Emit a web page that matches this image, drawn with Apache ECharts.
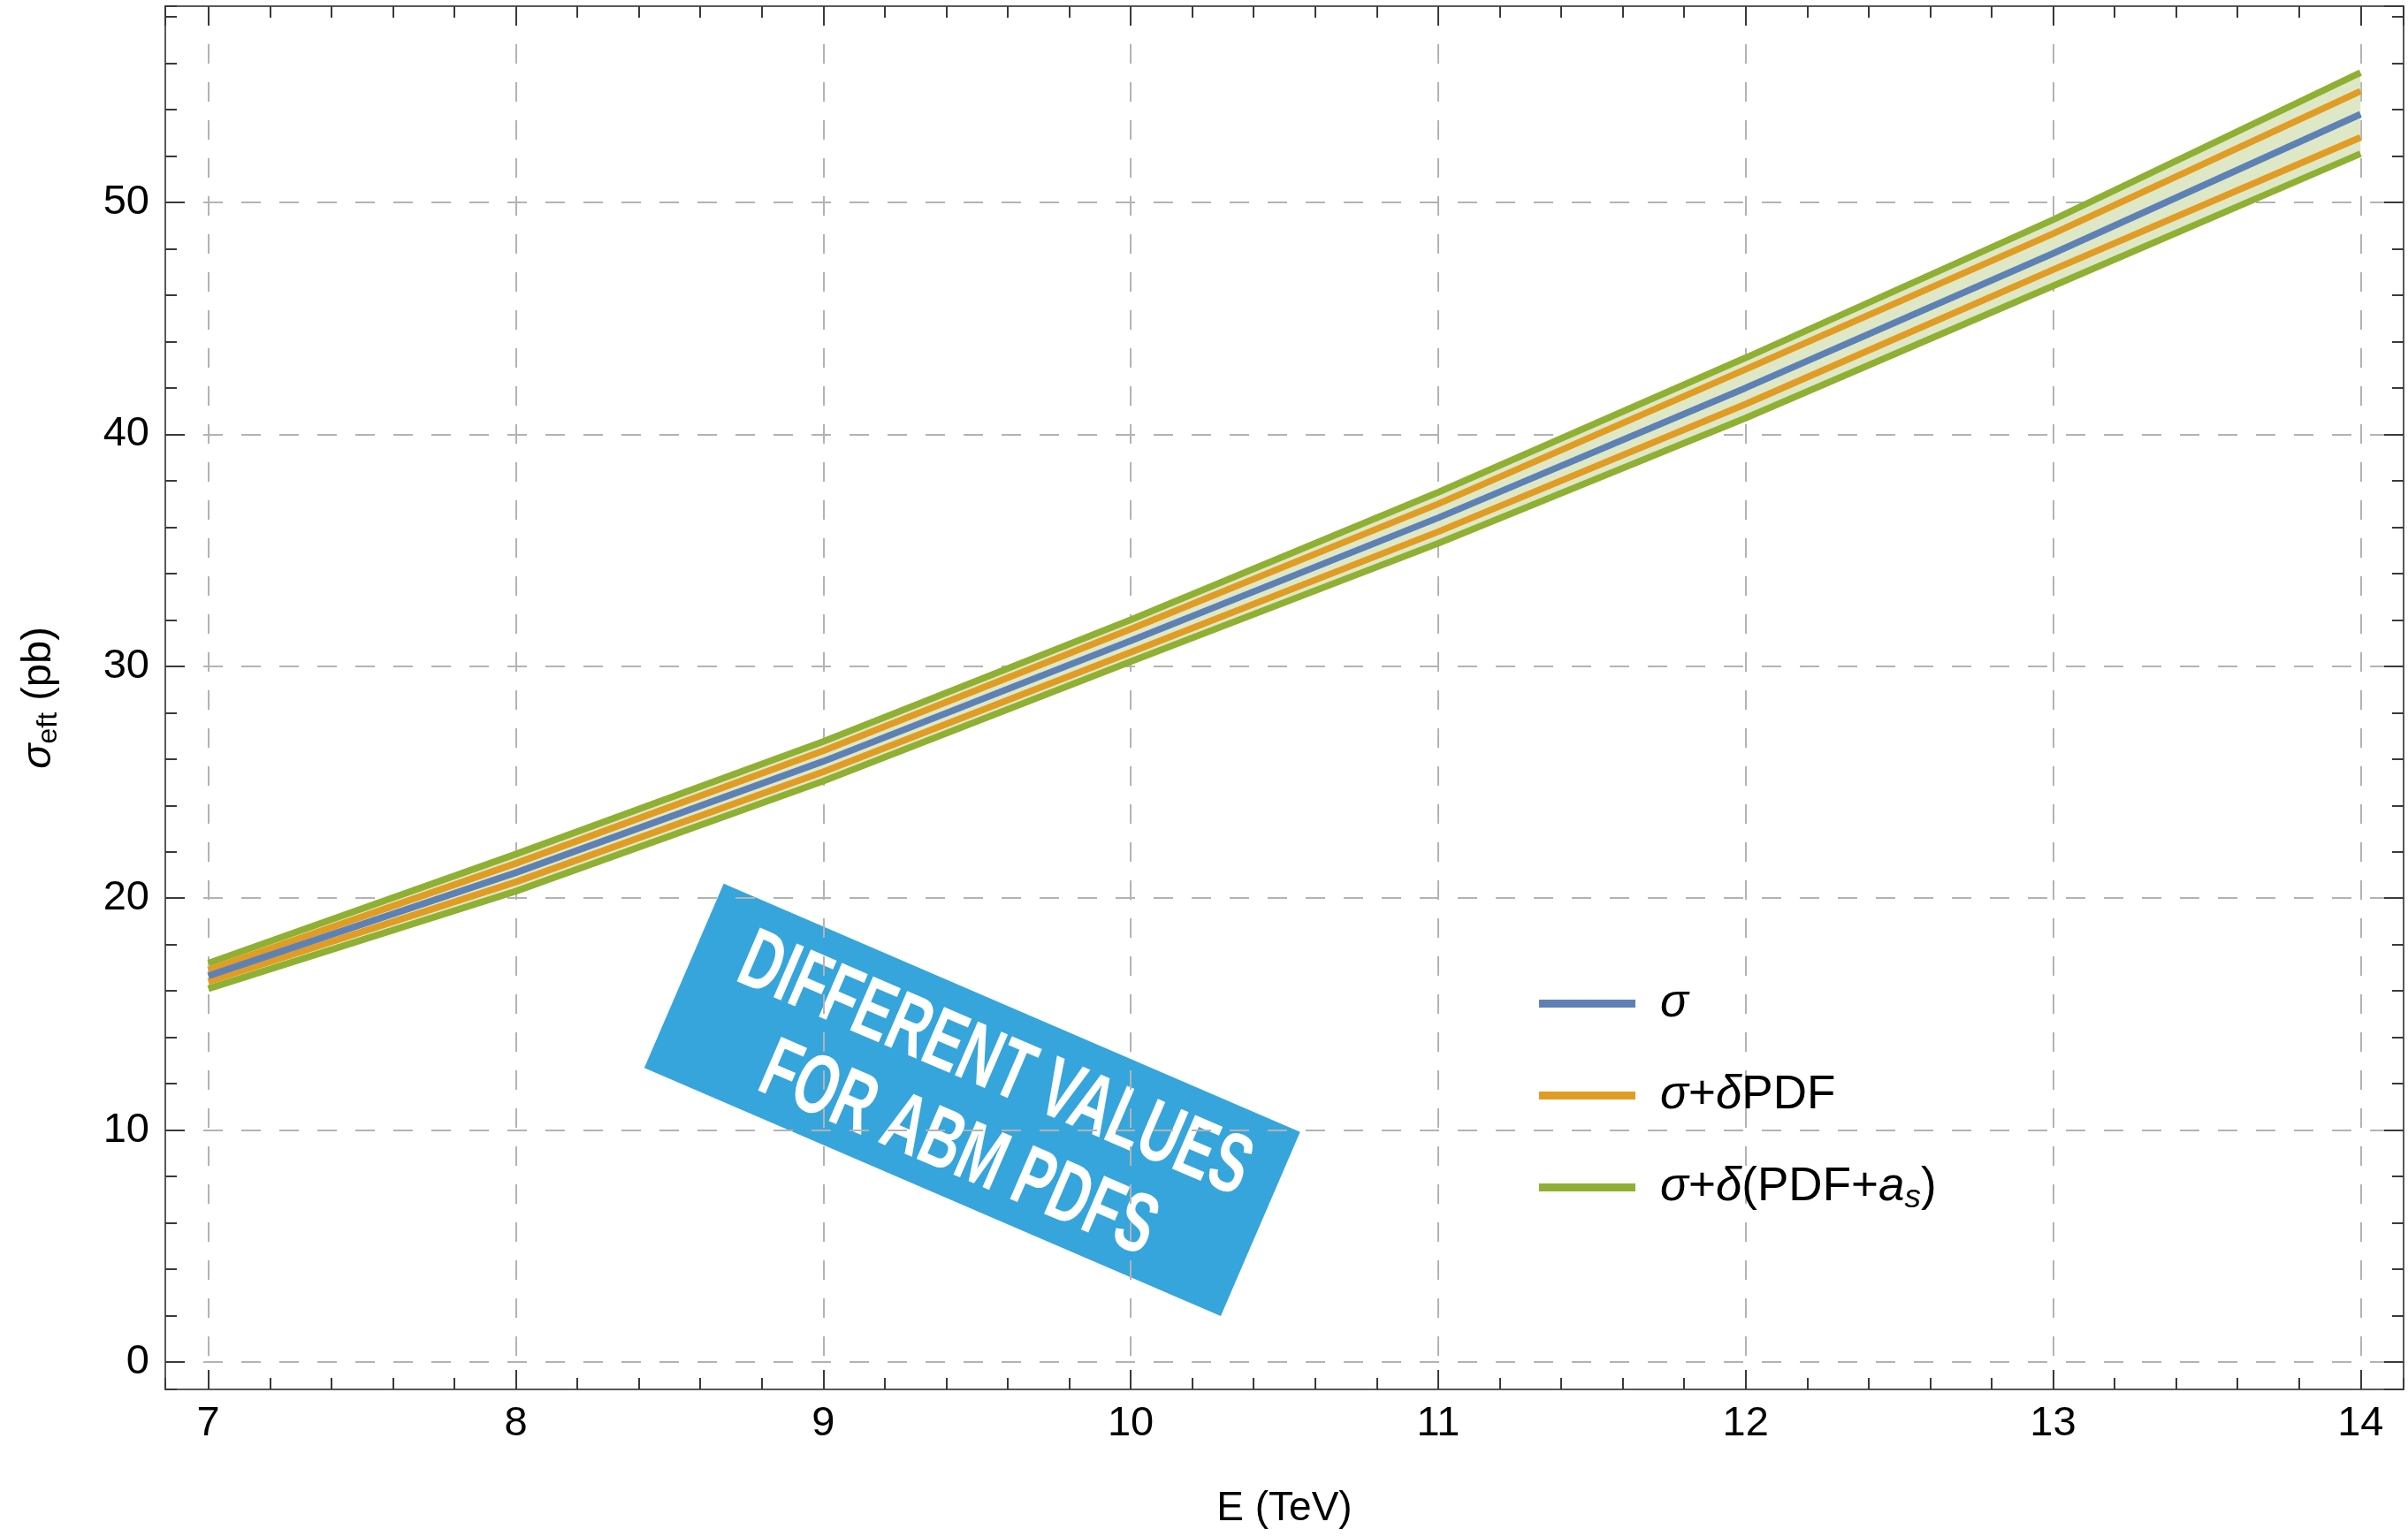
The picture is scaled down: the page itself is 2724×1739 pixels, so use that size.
<!DOCTYPE html>
<html>
<head>
<meta charset="utf-8">
<script src="https://cdn.jsdelivr.net/npm/echarts@6/dist/echarts.min.js"></script>
<style>
  html, body { margin: 0; padding: 0; background: #ffffff; }
  #chart { width: 2724px; height: 1739px; }
</style>
</head>
<body>
<div id="chart"></div>
<script>
// Collision energy (TeV) and effective cross sections (pb)
const energies   = [7, 8, 9, 10, 11, 12, 13, 14];
const sigma      = [16.65, 21.1, 25.9, 31.1, 36.4, 42.0, 47.8, 53.8];
const pdfUpper   = [16.9, 21.5, 26.35, 31.6, 37.0, 42.8, 48.65, 54.8];
const pdfLower   = [16.4, 20.7, 25.45, 30.6, 35.8, 41.3, 47.1, 52.8];
const pdfAsUpper = [17.2, 21.9, 26.75, 32.0, 37.5, 43.3, 49.25, 55.6];
const pdfAsLower = [16.1, 20.3, 25.05, 30.2, 35.3, 40.7, 46.4, 52.1];

// Legend entries and axis titles
const legendNames = ['σ', 'σ+δPDF', 'σ+δ(PDF+as)'];
const legendRich = {
  'σ': '{gap|}{i|σ}',
  'σ+δPDF': '{gap|}{i|σ}+{i|δ}PDF',
  'σ+δ(PDF+as)': '{gap|}{i|σ}+{i|δ}(PDF+{i|a}{sub|s})'
};
const xTitle = 'E (TeV)';
const yTitle = '{s|σ}{sub|eft} (pb)';
const stampLines = ['DIFFERENT VALUES', 'FOR ABM PDFS'];

// Plot ranges (frame padding around 7–14 TeV and 0–55 pb)
const X_MIN = 6.86, X_MAX = 14.14;
const Y_MIN = -1.18, Y_MAX = 58.46;

const BLUE = '#5e81b5', ORANGE = '#e19c24', GREEN = '#8fb032';
const BAND = '#dee8c6';
const FRAME = '#5a5a5a', TICK = '#3a3a3a';
const FONT = 'Liberation Sans, Arial, sans-serif';

const pairs = ys => energies.map((e, i) => [e, ys[i]]);

function axisCommon(min, max, splitNumber) {
  return { type: 'value', min: min, max: max, splitNumber: splitNumber, scale: true };
}

function majorAxis(min, max, n, position, showLabels, showGrid, margin) {
  return Object.assign(axisCommon(min, max, n), {
    position: position,
    axisLine: { show: true, onZero: false, lineStyle: { color: FRAME, width: 2 } },
    axisTick: { show: true, inside: true, length: 22, lineStyle: { color: TICK, width: 2 } },
    axisLabel: {
      show: showLabels, color: '#000', fontFamily: FONT, fontSize: 47, margin: margin,
      showMinLabel: false, showMaxLabel: false
    },
    splitLine: {
      show: showGrid, showMinLine: false, showMaxLine: false,
      lineStyle: { color: '#b3b3b3', width: 2, type: [22, 21] }
    }
  });
}

function minorAxis(min, max, n, position) {
  return Object.assign(axisCommon(min, max, n), {
    position: position,
    axisLine: { show: false, onZero: false },
    axisTick: { show: true, inside: true, length: 13, lineStyle: { color: TICK, width: 2 } },
    axisLabel: { show: false },
    splitLine: { show: false }
  });
}

const xMain = majorAxis(X_MIN, X_MAX, 7, 'bottom', true, true, 16);
xMain.name = xTitle;
xMain.nameLocation = 'middle';
xMain.nameGap = 112;
xMain.nameTextStyle = { color: '#000', fontFamily: FONT, fontSize: 46 };

const yMain = majorAxis(Y_MIN, Y_MAX, 6, 'left', true, true, 18);
yMain.name = yTitle;
yMain.nameLocation = 'middle';
yMain.nameGap = 116;
yMain.nameTextStyle = {
  color: '#000', fontFamily: FONT, fontSize: 47,
  rich: {
    s: { fontStyle: 'italic', fontSize: 47, fontFamily: FONT, color: '#000' },
    sub: { fontSize: 32, fontFamily: FONT, color: '#000', padding: [22, 0, 0, 0] }
  }
};

function lineSeries(name, ys, color, z) {
  return {
    type: 'line', name: name, data: pairs(ys),
    xAxisIndex: 0, yAxisIndex: 0,
    symbol: 'none', smooth: false, silent: true, z: z,
    lineStyle: { color: color, width: 7.5, cap: 'butt' },
    itemStyle: { color: color }
  };
}

const chart = echarts.init(document.getElementById('chart'), null, { renderer: 'canvas' });

chart.setOption({
  backgroundColor: '#ffffff',
  animation: false,
  grid: { left: 187, right: 5, top: 7, bottom: 167, containLabel: false },
  xAxis: [
    xMain,
    minorAxis(X_MIN, X_MAX, 36, 'bottom'),
    majorAxis(X_MIN, X_MAX, 7, 'top', false, false, 8),
    minorAxis(X_MIN, X_MAX, 36, 'top')
  ],
  yAxis: [
    yMain,
    minorAxis(Y_MIN, Y_MAX, 30, 'left'),
    majorAxis(Y_MIN, Y_MAX, 6, 'right', false, false, 8),
    minorAxis(Y_MIN, Y_MAX, 30, 'right')
  ],
  legend: {
    orient: 'vertical', left: 1736, top: 1099,
    icon: 'rect', itemWidth: 109, itemHeight: 9, itemGap: 41,
    selectedMode: false,
    data: legendNames,
    formatter: name => legendRich[name],
    textStyle: {
      color: '#000', fontFamily: FONT, fontSize: 53, lineHeight: 63,
      rich: {
        gap: { width: 23 },
        i: { fontStyle: 'italic', fontSize: 53, fontFamily: FONT, color: '#000' },
        sub: { fontStyle: 'italic', fontSize: 37, fontFamily: FONT, color: '#000', padding: [24, 0, 0, 0] }
      }
    }
  },
  series: [
    {
      // shaded uncertainty band between the PDF+as limits
      type: 'custom', name: 'band', silent: true, z: 1,
      xAxisIndex: 0, yAxisIndex: 0,
      data: energies.map((e, i) => [e, pdfAsLower[i], pdfAsUpper[i]]),
      encode: { x: 0, y: [1, 2] },
      renderItem: function (params, api) {
        if (params.dataIndex !== 0) return null;
        const top = energies.map((e, i) => api.coord([e, pdfAsUpper[i]]));
        const bottom = energies.map((e, i) => api.coord([e, pdfAsLower[i]])).reverse();
        return {
          type: 'polygon',
          shape: { points: top.concat(bottom) },
          style: { fill: BAND }
        };
      }
    },
    lineSeries(legendNames[2], pdfAsUpper, GREEN, 2),
    lineSeries(legendNames[2], pdfAsLower, GREEN, 2),
    lineSeries(legendNames[1], pdfUpper, ORANGE, 3),
    lineSeries(legendNames[1], pdfLower, ORANGE, 3),
    lineSeries(legendNames[0], sigma, BLUE, 4)
  ],
  graphic: [
    {
      type: 'group', x: 1100, y: 1244, rotation: -23.3 * Math.PI / 180, z: 100,
      children: [
        {
          type: 'rect',
          shape: { x: -355, y: -113, width: 710, height: 227 },
          style: { fill: '#36a5db' }
        },
        {
          type: 'text', x: 8, y: -44, scaleX: 0.654,
          style: {
            text: stampLines[0], fill: '#ffffff',
            font: 'bold 96px "Liberation Sans", Arial, sans-serif',
            align: 'center', verticalAlign: 'middle'
          }
        },
        {
          type: 'text', x: 8, y: 60, scaleX: 0.654,
          style: {
            text: stampLines[1], fill: '#ffffff',
            font: 'bold 96px "Liberation Sans", Arial, sans-serif',
            align: 'center', verticalAlign: 'middle'
          }
        }
      ]
    }
  ]
});
</script>
</body>
</html>
